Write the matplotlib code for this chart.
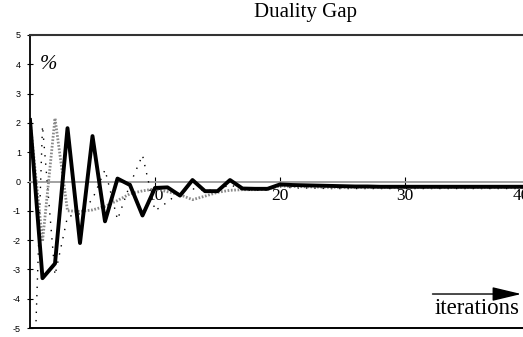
import matplotlib
matplotlib.use("Agg")
import matplotlib.pyplot as plt
import numpy as np

plt.rcParams['axes.unicode_minus'] = False

# iterations 0..40
iters = list(range(41))

# thick black line
gap_thick = [2.1, -3.3, -2.8, 1.82, -2.1, 1.55, -1.36, 0.1, -0.12, -1.16,
             -0.22, -0.2, -0.48, 0.05, -0.33, -0.33, 0.05, -0.24, -0.25, -0.25,
             -0.1, -0.12, -0.13, -0.14, -0.15, -0.16, -0.17, -0.17, -0.18, -0.18,
             -0.18, -0.18, -0.18, -0.18, -0.18, -0.18, -0.18, -0.18, -0.18, -0.18,
             -0.18]

# grey dotted line
gap_grey = [2.1, -2.05, 2.16, -1.0, -1.02, -0.97, -0.85, -0.65, -0.42, -0.32,
            -0.25, -0.35, -0.45, -0.62, -0.5, -0.37, -0.3, -0.28, -0.28, -0.26,
            -0.15, -0.17, -0.18, -0.19, -0.2, -0.2, -0.2, -0.2, -0.2, -0.2,
            -0.2, -0.2, -0.2, -0.2, -0.2, -0.2, -0.2, -0.2, -0.2, -0.2,
            -0.2]

# sparse black dotted line (first value runs off the bottom of the plot)
gap_sparse = [-11.0, 1.9, -3.2, -1.2, -1.1, -0.6, 0.4, -1.3, -0.1, 0.9,
              -1.0, -0.7, -0.35, -0.25, -0.3, -0.3, -0.1, -0.3, -0.3, -0.3,
              -0.15, -0.22, -0.22, -0.23, -0.24, -0.24, -0.24, -0.24, -0.24, -0.24,
              -0.24, -0.24, -0.24, -0.24, -0.24, -0.24, -0.24, -0.24, -0.24, -0.24,
              -0.24]

x_ticks = [10, 20, 30, 40]
y_ticks = list(range(-5, 6))

serif = 'Liberation Serif'
sans = 'Liberation Sans'

fig = plt.figure(figsize=(5.23, 3.37), dpi=100)
# axes run a little past the right edge so that x=40 falls just outside, as in the scan
ax = fig.add_axes([30/523, 9/337, 500/523, 293/337])
ax.set_xlim(0, 40)
ax.set_ylim(-5, 5)

ax.plot(iters, gap_sparse, color='black', lw=1.0, linestyle=(0, (1, 5)), zorder=3)
ax.plot(iters, gap_grey, color='#8a8a8a', lw=2.0, linestyle=(0, (0.6, 0.6)), zorder=4)
ax.plot(iters, gap_thick, color='black', lw=2.8, zorder=5)

# frame
ax.spines['right'].set_visible(False)
ax.spines['top'].set_color('#333333')
ax.spines['top'].set_linewidth(1.5)
ax.spines['left'].set_linewidth(1.3)
ax.spines['bottom'].set_position(('data', 0))
ax.spines['bottom'].set_color('#9a9a9a')
ax.spines['bottom'].set_linewidth(1.3)
ax.axhline(-5, color='black', lw=1.4, clip_on=False, zorder=6)

ax.set_xticks(x_ticks)
ax.set_yticks(y_ticks)
ax.tick_params(axis='x', direction='inout', length=7, width=0.8, color='black',
               pad=1, labelsize=12.5, labelfontfamily=serif)
ax.tick_params(axis='y', direction='inout', length=5, width=0.8,
               pad=4, labelsize=6.5, labelfontfamily=sans)
# last label pushed left so that it stays partly inside the figure
ax.get_xticklabels()[-1].set_ha('right')

ax.text(1.5, 3.98, '%', fontsize=15, style='italic', family=serif,
        ha='center', va='center')

ax.annotate('', xy=(39.3, -3.84), xytext=(32.2, -3.84),
            arrowprops=dict(arrowstyle='-|>,head_length=1.8,head_width=0.43',
                            color='black', lw=1.0, shrinkA=0, shrinkB=0,
                            mutation_scale=10))
ax.text(35.8, -4.35, 'iterations', fontsize=16.5, family=serif,
        ha='center', va='center')

fig.text(305/523, 1 - 12/337, 'Duality Gap', fontsize=15, family=serif,
         ha='center', va='center')

fig.savefig('out.png', dpi=100, facecolor='white')
